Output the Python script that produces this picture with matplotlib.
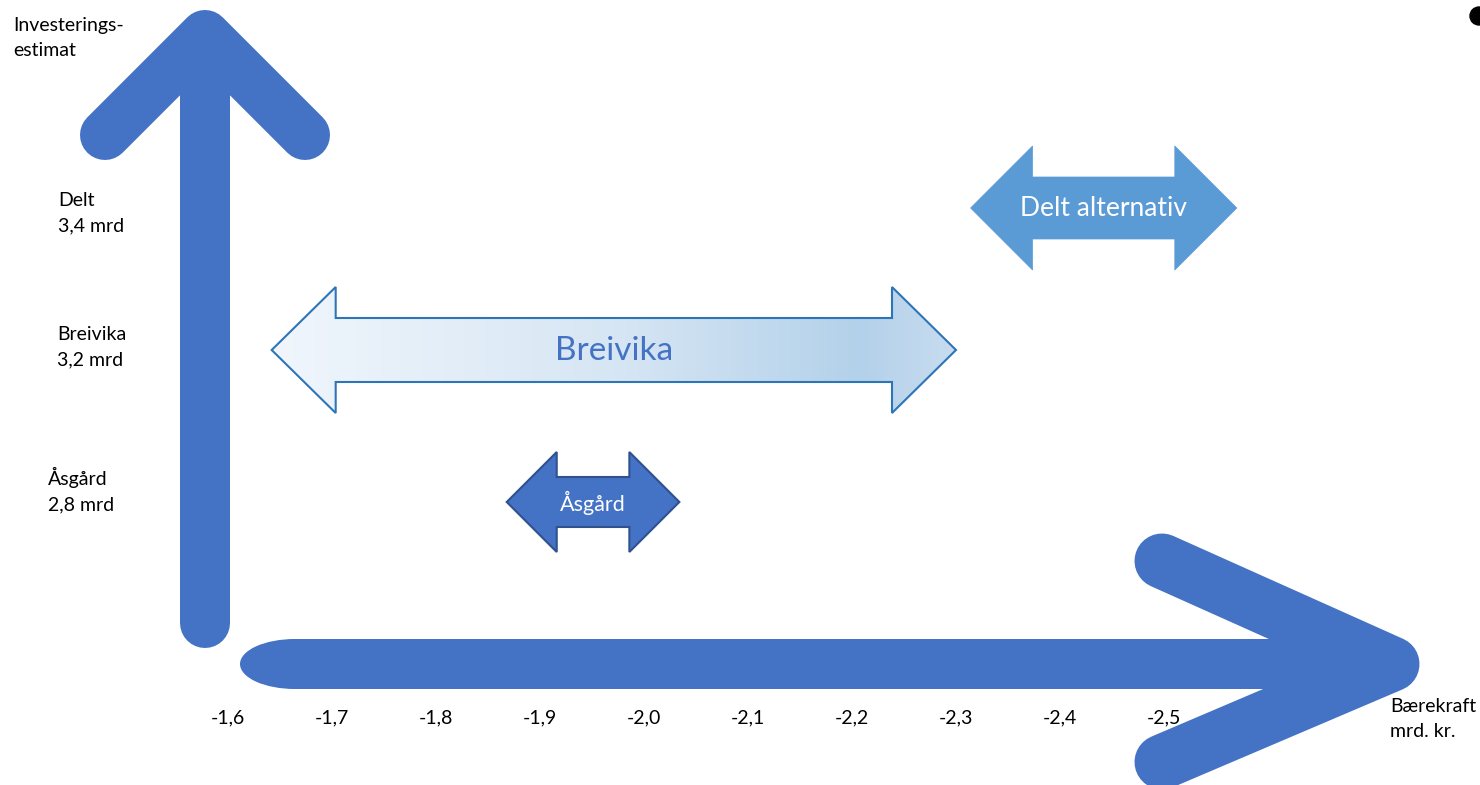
import numpy as np
import matplotlib.pyplot as plt
from matplotlib.patches import Polygon, Ellipse, Rectangle, Circle
from matplotlib.colors import LinearSegmentedColormap

"""
data (mrd. kr.)
"""

tick_values = [-1.6, -1.7, -1.8, -1.9, -2.0, -2.1, -2.2, -2.3, -2.4, -2.5]
tick_labels = ["-1,6", "-1,7", "-1,8", "-1,9", "-2,0", "-2,1", "-2,2", "-2,3", "-2,4", "-2,5"]

alternatives = ["Delt alternativ", "Breivika", "Åsgård"]
range_low = [-2.314, -1.642, -1.868]
range_high = [-2.570, -2.300, -2.034]
estimate_labels = ["Delt\n3,4 mrd", "Breivika\n3,2 mrd", "Åsgård\n2,8 mrd"]

"""
layout (pixels)
"""

W, H = 1480, 785
PX_PER_UNIT = 1040.0
X0_PX, X0_VAL = 228, -1.6
row_y = [208, 350, 502]
head_half = [62, 63, 50]
body_half = [31, 32, 25]
head_len = [62, 64, 50]
label_pos = [(58, 213), (57, 347), (48, 490)]
text_size = [19, 24, 15.5]

BLUE = "#4472C4"
LABEL_SIZE = 14
LINESP = 1.62
plt.rcParams['font.family'] = ['Lato', 'DejaVu Sans']


def px(p):
    return p * 0.72  # pixels -> points at dpi 100


def double_arrow(lo, hi, c, hh, bh, hl):
    h = hl / PX_PER_UNIT
    return [(lo, c), (lo - h, c - hh), (lo - h, c - bh), (hi + h, c - bh), (hi + h, c - hh),
            (hi, c), (hi + h, c + hh), (hi + h, c + bh), (lo - h, c + bh), (lo - h, c + hh)]


fig = plt.figure(figsize=(W / 100, H / 100), dpi=100)

# decoration layer in pixel coordinates
deco = fig.add_axes([0, 0, 1, 1])
deco.set_xlim(0, W)
deco.set_ylim(H, 0)
deco.axis('off')

# vertical axis arrow
deco.plot([205, 205], [623, 60], color=BLUE, lw=px(50), solid_capstyle='round')
deco.plot([105, 205, 305], [135, 35, 135], color=BLUE, lw=px(50),
          solid_capstyle='round', solid_joinstyle='round')

# horizontal axis arrow
deco.add_patch(Ellipse((295, 664), 110, 50, color=BLUE, lw=0))
deco.add_patch(Rectangle((295, 639), 1100, 50, color=BLUE, lw=0))
deco.plot([1162, 1392, 1162], [561, 664, 762], color=BLUE, lw=px(55),
          solid_capstyle='round', solid_joinstyle='round')

deco.add_patch(Circle((1479, 16), 9, color='black', clip_on=False))

# data layer
ax = fig.add_axes([0, 0, 1, 1])
ax.patch.set_alpha(0)
ax.axis('off')

for val, lab in zip(tick_values, tick_labels):
    ax.text(val, 718, lab, ha='center', va='center', fontsize=LABEL_SIZE, color='black')

styles = [
    dict(facecolor="#5B9BD5", edgecolor="#5B9BD5", lw=0.5, text="white"),
    dict(facecolor="none", edgecolor="#2E75B6", lw=1.5, text=BLUE),
    dict(facecolor=BLUE, edgecolor="#2F528F", lw=1.5, text="white"),
]

for i, name in enumerate(alternatives):
    pts = double_arrow(range_low[i], range_high[i], row_y[i], head_half[i], body_half[i], head_len[i])
    st = styles[i]
    poly = Polygon(pts, closed=True, facecolor=st['facecolor'], edgecolor=st['edgecolor'],
                   lw=st['lw'], zorder=3)
    ax.add_patch(poly)
    if name == "Breivika":
        cmap = LinearSegmentedColormap.from_list(
            "breivika", [(0, "#F0F6FC"), (0.5, "#D7E6F4"), (0.86, "#B3D1EA"), (1.0, "#C8DCEF")])
        grad = np.linspace(0, 1, 256).reshape(1, -1)
        img = ax.imshow(grad, cmap=cmap, aspect='auto', zorder=2,
                        extent=(range_low[i], range_high[i],
                                row_y[i] + head_half[i], row_y[i] - head_half[i]))
        img.set_clip_path(Polygon(pts, closed=True, transform=ax.transData))
    mid = (range_low[i] + range_high[i]) / 2
    ax.text(mid, row_y[i] + 1, name, ha='center', va='center', fontsize=text_size[i],
            color=st['text'], zorder=4)

ax.set_xlim(X0_VAL + X0_PX / PX_PER_UNIT, X0_VAL - (W - X0_PX) / PX_PER_UNIT)
ax.set_ylim(H, 0)

# axis captions and estimate labels
deco.text(13, 38, "Investerings-\nestimat", ha='left', va='center', fontsize=LABEL_SIZE, linespacing=LINESP)
deco.text(1390, 719, "Bærekraft\nmrd. kr.", ha='left', va='center', fontsize=LABEL_SIZE, linespacing=LINESP)
for (lx, ly), lab in zip(label_pos, estimate_labels):
    deco.text(lx, ly, lab, ha='left', va='center', fontsize=LABEL_SIZE, linespacing=LINESP)

fig.savefig("out.png", dpi=100)
